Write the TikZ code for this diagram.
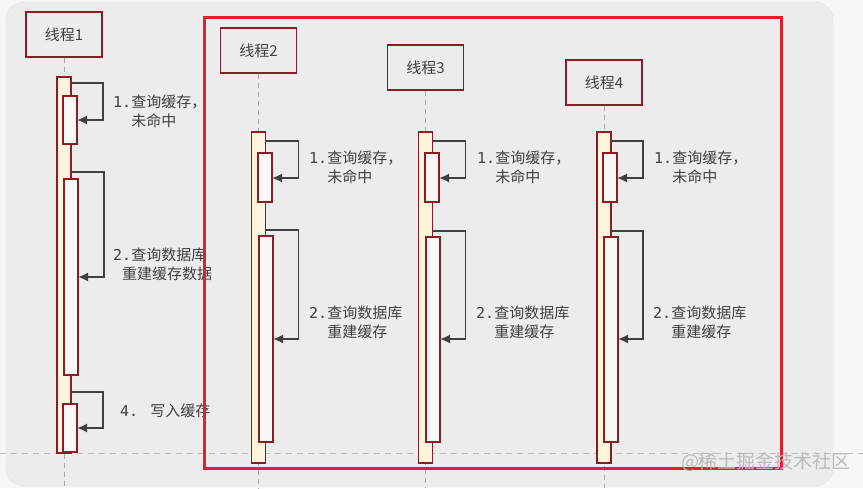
\documentclass[tikz,border=0pt]{standalone}
\usepackage{fontspec}
\setmainfont{Noto Sans CJK SC}
\newfontfamily\monofont{DejaVu Sans Mono}
\usetikzlibrary{positioning,arrows.meta}

\definecolor{bg0}{RGB}{246,246,246}
\definecolor{bg1}{RGB}{236,236,236}
\definecolor{red1}{RGB}{139,28,36}
\definecolor{red2}{RGB}{221,34,44}
\definecolor{cream1}{RGB}{253,244,220}
\definecolor{white1}{RGB}{249,247,245}
\definecolor{grey1}{RGB}{64,64,64}
\definecolor{grey2}{RGB}{170,170,170}
\definecolor{khaki1}{RGB}{190,190,170}

\tikzstyle{head} = [draw=red1, fill=bg1, line width=1.5, minimum width=76, minimum height=45, inner sep=0, font=\fontsize{15}{19}\selectfont, text=grey1]
\tikzstyle{outerbar} = [draw=red1, fill=cream1, line width=1.5, minimum width=14, inner sep=0, outer sep=0, anchor=north]
\tikzstyle{innerbar} = [draw=red1, fill=white1, line width=1.5, minimum width=14, inner sep=0, outer sep=0, anchor=north west]
\tikzstyle{arrow} = [draw, grey1, line width=1.7, -{Latex[length=10,width=9]}]
\tikzstyle{note} = [align=left, anchor=west, inner sep=0, font=\fontsize{15}{19}\selectfont, text=grey1]
\tikzstyle{lifeline} = [draw=grey2, line width=1, dash pattern=on 5 off 4]

\begin{document}
\begin{tikzpicture}[x=1pt, y=-1pt]
	\useasboundingbox (0,0) rectangle (863,488);
	\fill[bg0] (0,0) rectangle (863,488);
	\filldraw[fill=bg1, draw=black!12, rounded corners=18] (6,2) rectangle (833,486);
	\draw[khaki1, line width=1, dash pattern=on 6 off 5] (0,453) -- (863,453);
	\coordinate (bottom) at (0,488);

	\node [head] (t1) at (64,34.5) {线程1};
	\node [head] (t2) at (258.5,50.5) {线程2};
	\node [head] (t3) at (425.5,67.5) {线程3};
	\node [head] (t4) at (604,82.5) {线程4};

	\draw [lifeline] (t1.south) -- (t1.south |- bottom);
	\draw [lifeline] (t2.south) -- (t2.south |- bottom);
	\draw [lifeline] (t3.south) -- (t3.south |- bottom);
	\draw [lifeline] (t4.south) -- (t4.south |- bottom);

	% Thread 1
	\node [outerbar, minimum height=376] (b1) at (64,77) {};
	\node [innerbar, minimum height=48] (i1a) at (63,96) {};
	\node [innerbar, minimum height=196] (i1b) at (64,179) {};
	\node [innerbar, minimum height=48] (i1c) at (63,404) {};
	\draw [arrow] (b1.east |- 0,83) -- ++(32,0) |- (i1a.east |- 0,120);
	\draw [arrow] (b1.east |- 0,172) -- ++(33,0) |- (i1b.east |- 0,277);
	\draw [arrow] (b1.east |- 0,392) -- ++(32,0) |- (i1c.east |- 0,428);
	\node [note] (n1a) at (113,111.5) {{\monofont 1.}查询缓存，\\{\monofont\ \ }未命中};
	\node [note] (n1b) at (113,264) {{\monofont 2.}查询数据库\\{\monofont\ }重建缓存数据};
	\node [note] (n1c) at (120,411) {{\monofont 4. }写入缓存};

	% Thread 2
	\node [outerbar, minimum height=331] (b2) at (258.5,132) {};
	\node [innerbar, minimum height=49] (i2a) at (258,153) {};
	\node [innerbar, minimum height=206] (i2b) at (259,236) {};
	\draw [arrow] (b2.east |- 0,141) -- ++(33,0) |- (i2a.east |- 0,178);
	\draw [arrow] (b2.east |- 0,230) -- ++(33,0) |- (i2b.east |- 0,339);
	\node [note] (n2a) at (309,167.5) {{\monofont 1.}查询缓存，\\{\monofont\ \ }未命中};
	\node [note] (n2b) at (309,322) {{\monofont 2.}查询数据库\\{\monofont\ \ }重建缓存};

	% Thread 3
	\node [outerbar, minimum height=331] (b3) at (425.5,132) {};
	\node [innerbar, minimum height=49] (i3a) at (425,153) {};
	\node [innerbar, minimum height=205] (i3b) at (426,237) {};
	\draw [arrow] (b3.east |- 0,141) -- ++(33,0) |- (i3a.east |- 0,178);
	\draw [arrow] (b3.east |- 0,231) -- ++(33,0) |- (i3b.east |- 0,339);
	\node [note] (n3a) at (477,167.5) {{\monofont 1.}查询缓存，\\{\monofont\ \ }未命中};
	\node [note] (n3b) at (476,322) {{\monofont 2.}查询数据库\\{\monofont\ \ }重建缓存};

	% Thread 4
	\node [outerbar, minimum height=331] (b4) at (604,132) {};
	\node [innerbar, minimum height=49] (i4a) at (603,153) {};
	\node [innerbar, minimum height=205] (i4b) at (604,237) {};
	\draw [arrow] (b4.east |- 0,141) -- ++(32,0) |- (i4a.east |- 0,178);
	\draw [arrow] (b4.east |- 0,231) -- ++(32,0) |- (i4b.east |- 0,339);
	\node [note] (n4a) at (654,167.5) {{\monofont 1.}查询缓存，\\{\monofont\ \ }未命中};
	\node [note] (n4b) at (653,322) {{\monofont 2.}查询数据库\\{\monofont\ \ }重建缓存};

	% Highlight
	\draw [red2, line width=3] (204,17) rectangle (781,468);
	\node [font=\fontsize{19}{22}\selectfont, text=grey2!80] (mark) at (766,462) {@稀土掘金技术社区};
\end{tikzpicture}
\end{document}
